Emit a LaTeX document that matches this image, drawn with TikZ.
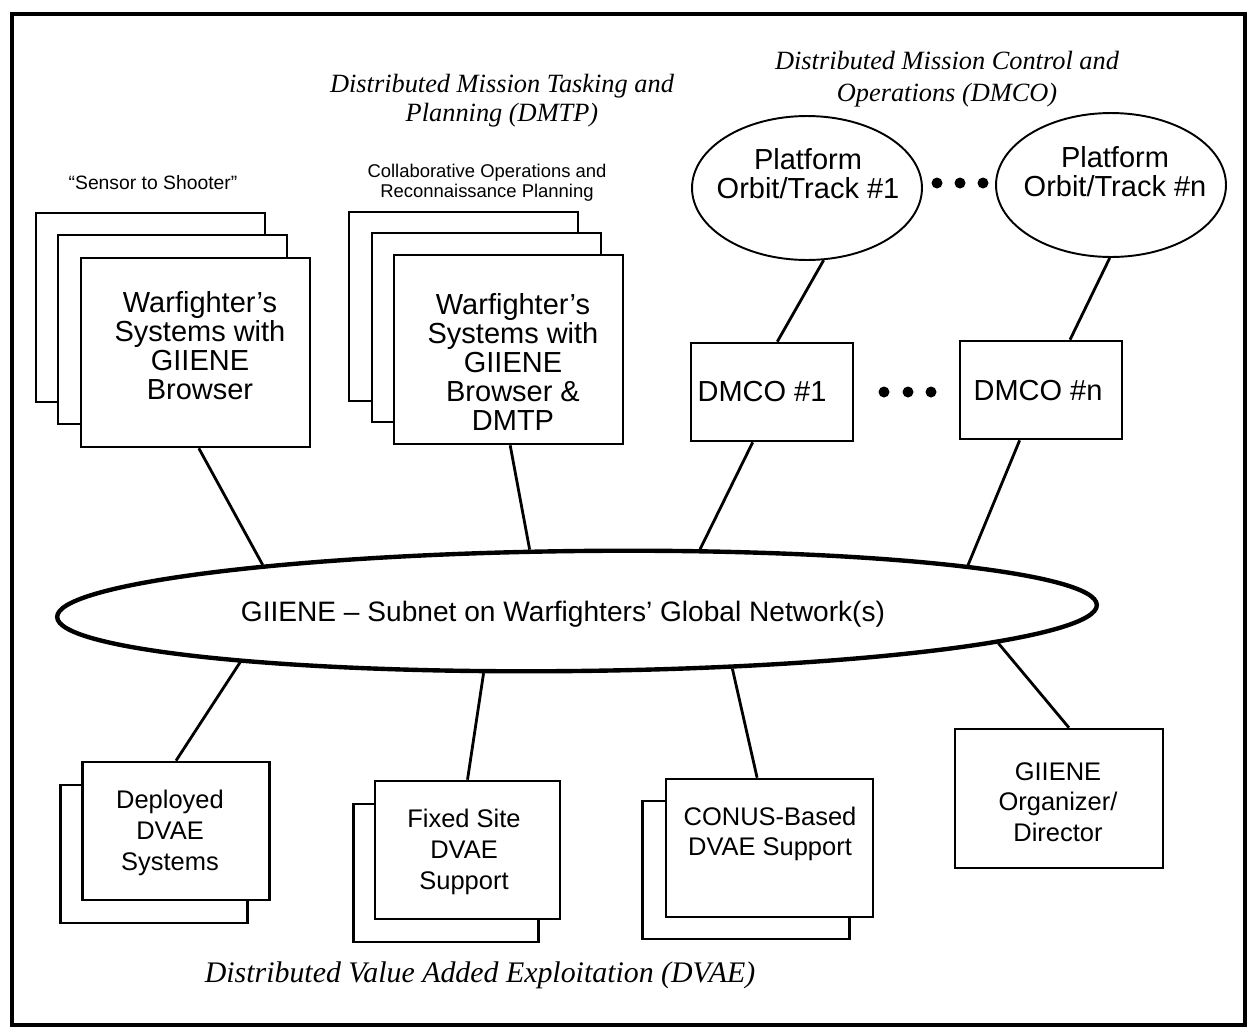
\documentclass[tikz,border=0pt]{standalone}
\usepackage{fontspec}
\setmainfont{Liberation Serif}
\setsansfont{Liberation Sans}
\usetikzlibrary{shapes.geometric}

\begin{document}
\begin{tikzpicture}[x=0.02cm,y=-0.02cm,
  frame/.style={line width=2.3pt},
  card/.style={draw, line width=1.5pt, fill=white, inner sep=0pt},
  bigcard/.style={card, minimum width=4.58cm, minimum height=3.78cm},
  smallcard/.style={card, minimum height=2.76cm},
  orbit/.style={draw, ellipse, line width=1.1pt, inner sep=0pt, minimum width=4.6cm, minimum height=2.88cm},
  conn/.style={line width=1.6pt},
  bigtext/.style={font=\sffamily\fontsize{16.5}{16.5}\selectfont, align=center, inner sep=0pt},
  midtext/.style={font=\sffamily\fontsize{14.5}{17.5}\selectfont, align=center, inner sep=0pt},
  smalltext/.style={font=\sffamily\fontsize{10.5}{11.4}\selectfont, align=center, inner sep=0pt},
  heading/.style={font=\itshape\fontsize{15}{16.5}\selectfont, align=center, inner sep=0pt},
  dot/.style={circle, fill=black, inner sep=0pt, minimum size=0.22cm},
]
\useasboundingbox (0,0) rectangle (1251,1032);
\draw[frame] (12,14) rectangle (1245,1025);

% section headings
\node[heading] (hdmtp) at (502,101) {Distributed Mission Tasking and\\Planning (DMTP)};
\node[heading, font=\itshape\fontsize{15}{18}\selectfont] (hdmco) at (947,79) {Distributed Mission Control and\\Operations (DMCO)};
\node[heading, font=\itshape\fontsize{17}{18}\selectfont] (hdvae) at (480,975) {Distributed Value Added Exploitation (DVAE)};

% warfighter systems (left stack)
\node[smalltext, font=\sffamily\fontsize{11}{12}\selectfont] (ssh) at (153,183) {``Sensor to Shooter''};
\node[bigcard] (ws1b) at (150.5,307.5) {};
\node[bigcard] (ws1m) at (172.5,329.5) {};
\node[bigcard] (ws1) at (195.5,352.5) {};
\node[bigtext] (ws1t) at (200,346) {Warfighter's\\Systems with\\GIIENE\\Browser};

% warfighter systems with DMTP (second stack)
\node[smalltext] (corp) at (487,183) {Collaborative Operations and\\Reconnaissance Planning};
\node[bigcard] (dmtpb) at (463.5,306.5) {};
\node[bigcard] (dmtpm) at (486.5,327.5) {};
\node[bigcard] (dmtp) at (508.5,349.5) {};
\node[bigtext] (dmtpt) at (513,362) {Warfighter's\\Systems with\\GIIENE\\Browser \&\\DMTP};

% platform orbits and DMCO nodes
\node[orbit] (p1) at (807,188) {};
\node[bigtext] (p1t) at (808,174) {Platform\\Orbit/Track \#1};
\node[orbit] (pn) at (1111,185) {};
\node[bigtext] (pnt) at (1115,172) {Platform\\Orbit/Track \#n};
\node[dot] (pd1) at (937,183) {};
\node[dot] (pd2) at (960,183) {};
\node[dot] (pd3) at (983,183) {};

\node[card, minimum width=3.24cm, minimum height=1.96cm] (d1) at (772,392) {};
\node[bigtext] (d1t) at (762,392) {DMCO \#1};
\node[card, minimum width=3.24cm, minimum height=1.96cm] (dn) at (1041,390) {};
\node[bigtext] (dnt) at (1038,391) {DMCO \#n};
\node[dot] (dd1) at (884,392) {};
\node[dot] (dd2) at (908,392) {};
\node[dot] (dd3) at (931,392) {};

% the network
\node[draw, ellipse, line width=2.5pt, inner sep=0pt, minimum width=20.8cm, minimum height=2.4cm, rotate=0.66] (net) at (577,611) {};
\node[bigtext, font=\sffamily\fontsize{16}{16}\selectfont] (nett) at (563,614) {GIIENE -- Subnet on Warfighters' Global Network(s)};

% DVAE and organizer boxes
\node[smallcard, minimum width=3.74cm] (depb) at (154,854) {};
\node[smallcard, minimum width=3.74cm] (dep) at (176,831) {};
\node[midtext] (dept) at (170,833) {Deployed\\DVAE\\Systems};

\node[smallcard, minimum width=3.7cm] (fixb) at (446,873) {};
\node[smallcard, minimum width=3.7cm] (fix) at (467.5,850) {};
\node[midtext] (fixt) at (464,852) {Fixed Site\\DVAE\\Support};

\node[smallcard, minimum width=4.14cm] (conusb) at (746,870) {};
\node[smallcard, minimum width=4.14cm] (conus) at (769.5,848) {};
\node[midtext] (conust) at (770,834) {CONUS-Based\\DVAE Support};

\node[card, minimum width=4.16cm, minimum height=2.78cm] (org) at (1059,798.5) {};
\node[midtext] (orgt) at (1058,802) {GIIENE\\Organizer/\\Director};

% connectors
\draw[conn] (ws1.-88) -- (net.171);
\draw[conn] (dmtp.-89) -- (net.127);
\draw[conn] (d1.-111) -- (net.26);
\draw[conn] (dn.-113) -- (net.6.5);
\draw[conn] (p1.-77) -- (d1.84);
\draw[conn] (pn.-91) -- (dn.60);
\draw[conn] (net.188.7) -- (dep.90);
\draw[conn] (net.213.5) -- (fix.90);
\draw[conn] (net.339.7) -- (conus.100);
\draw[conn] (net.355.9) -- (org.82);
\end{tikzpicture}
\end{document}
